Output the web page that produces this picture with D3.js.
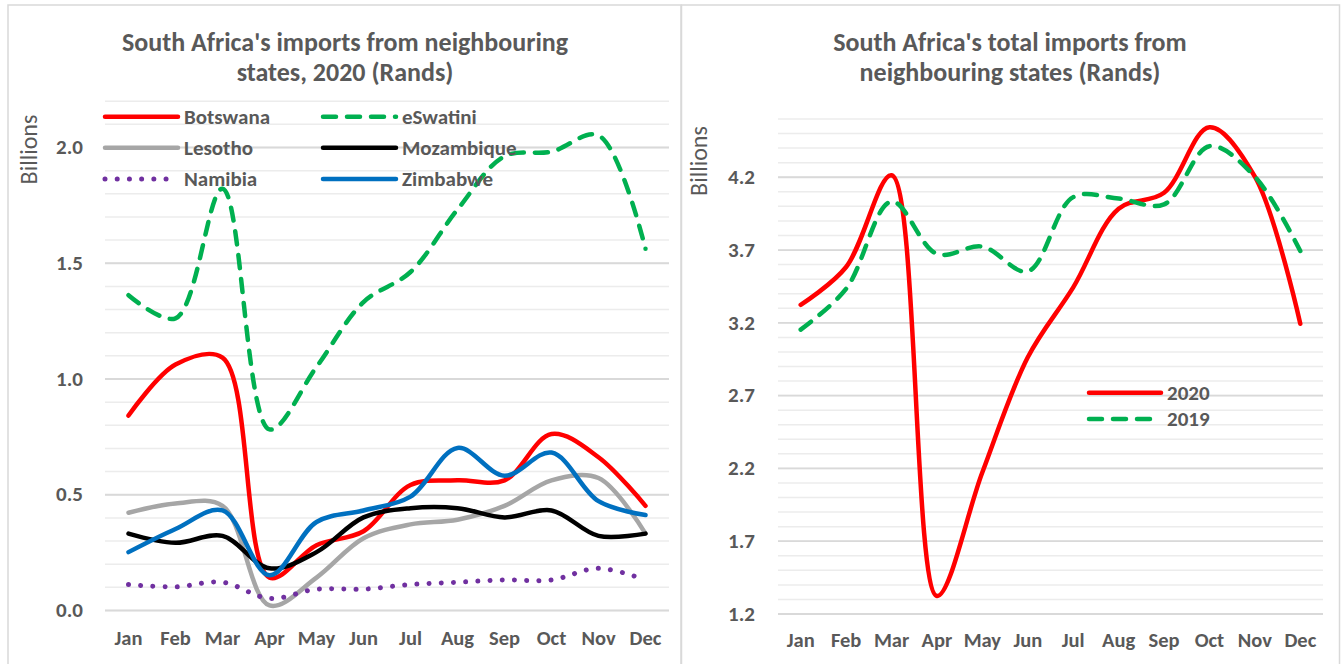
<!DOCTYPE html>
<html>
<head>
<meta charset="utf-8">
<script src="https://cdn.jsdelivr.net/npm/d3@7"></script>
<style>
  html, body { margin: 0; padding: 0; background: #ffffff; }
  svg { display: block; }
  text { font-family: Carlito, Calibri, Lato, sans-serif; fill: #595959; }
</style>
</head>
<body>
<svg id="chart" width="1341" height="664"></svg>
<script>
// ---------- data ----------
const months = ["Jan","Feb","Mar","Apr","May","Jun","Jul","Aug","Sep","Oct","Nov","Dec"];

const botswana   = [0.84,1.06,1.09,0.14,0.28,0.34,0.54,0.56,0.56,0.76,0.66,0.45];
const eswatini   = [1.36,1.26,1.82,0.78,1.05,1.33,1.46,1.73,1.96,1.98,2.05,1.56];
const lesotho    = [0.42,0.46,0.45,0.02,0.14,0.31,0.37,0.39,0.45,0.56,0.57,0.33];
const mozambique = [0.33,0.29,0.32,0.18,0.25,0.40,0.44,0.44,0.40,0.43,0.32,0.33];
const namibia    = [0.11,0.10,0.12,0.05,0.09,0.09,0.11,0.12,0.13,0.13,0.18,0.13];
const zimbabwe   = [0.25,0.35,0.43,0.15,0.38,0.43,0.49,0.70,0.58,0.68,0.47,0.41];

const total2020  = [3.32,3.58,4.21,1.32,2.17,2.96,3.44,3.98,4.09,4.54,4.20,3.19];
const total2019  = [3.15,3.43,4.03,3.67,3.72,3.55,4.06,4.05,4.01,4.41,4.20,3.69];

const leftTicks  = [0.0,0.5,1.0,1.5,2.0];
const rightTicks = [1.2,1.7,2.2,2.7,3.2,3.7,4.2];

const leftTitle  = ["South Africa's imports from neighbouring", "states, 2020 (Rands)"];
const rightTitle = ["South Africa's total imports from", "neighbouring states (Rands)"];
const axisTitle  = "Billions";

const leftSeries = [
  {name:"Botswana",   values:botswana,   color:"#FF0000", style:"solid"},
  {name:"eSwatini",   values:eswatini,   color:"#00B050", style:"dash"},
  {name:"Lesotho",    values:lesotho,    color:"#A6A6A6", style:"solid"},
  {name:"Mozambique", values:mozambique, color:"#000000", style:"solid"},
  {name:"Namibia",    values:namibia,    color:"#7030A0", style:"dot"},
  {name:"Zimbabwe",   values:zimbabwe,   color:"#0070C0", style:"solid"}
];
const rightSeries = [
  {name:"2020", values:total2020, color:"#FF0000", style:"solid"},
  {name:"2019", values:total2019, color:"#00B050", style:"dash"}
];

// ---------- helpers ----------
const svg = d3.select("#chart");
const FONT = "Carlito, Calibri, Lato, sans-serif";

function applyStyle(sel, s) {
  sel.attr("stroke", s.color).attr("fill", "none")
     .attr("stroke-linecap", "round").attr("stroke-linejoin", "round");
  if (s.style === "dash") sel.attr("stroke-width", 4.5).attr("stroke-dasharray", "13,11");
  else if (s.style === "dot") sel.attr("stroke-width", 5).attr("stroke-dasharray", "0.01,12.2");
  else sel.attr("stroke-width", 4.5);
}

function drawPanel(cfg) {
  const g = svg.append("g");
  g.append("rect").attr("x", cfg.panel[0]).attr("y", cfg.panel[1])
    .attr("width", cfg.panel[2]).attr("height", cfg.panel[3])
    .attr("fill", "#fff").attr("stroke", "#d9d9d9").attr("stroke-width", 1.5);

  const x = d3.scaleBand().domain(months).range([cfg.x0, cfg.x1]).padding(0);
  const y = d3.scaleLinear().domain(cfg.domain).range([cfg.yBottom, cfg.yTop]);

  const minor = d3.range(Math.round(cfg.domain[0]*10), Math.round(cfg.domain[1]*10) + 1).map(v => v/10);
  g.append("g").attr("transform", `translate(${cfg.x0},0)`)
    .call(d3.axisLeft(y).tickValues(minor).tickSize(-(cfg.x1 - cfg.x0)).tickFormat(""))
    .call(a => a.select(".domain").remove())
    .call(a => a.selectAll("line").attr("stroke", "#ececec").attr("stroke-width", 1.5));
  g.append("g").attr("transform", `translate(${cfg.x0},0)`)
    .call(d3.axisLeft(y).tickValues(cfg.ticks).tickSize(-(cfg.x1 - cfg.x0)).tickPadding(cfg.tickPad).tickFormat(d3.format(".1f")))
    .call(a => a.select(".domain").remove())
    .call(a => a.selectAll("line").attr("stroke", "#d9d9d9").attr("stroke-width", 1.8))
    .call(a => a.selectAll("text").attr("fill", "#595959").style("font-size", "21px")
        .style("font-weight", 700).style("font-family", FONT));
  g.append("g").attr("transform", `translate(0,${cfg.monthY})`)
    .call(d3.axisBottom(x).tickSize(0).tickPadding(0))
    .call(a => a.select(".domain").remove())
    .call(a => a.selectAll("text").attr("fill", "#595959").attr("dy", 0).style("font-size", "20.5px")
        .style("font-weight", 700).style("font-family", FONT));

  cfg.title.forEach((t, i) => {
    g.append("text").attr("x", cfg.titleX).attr("y", cfg.titleY[i])
      .attr("text-anchor", "middle").style("font-size", "26px").style("font-weight", 700).text(t);
  });
  g.append("text")
    .attr("transform", `translate(${cfg.billions[0]},${cfg.billions[1]}) rotate(-90)`)
    .attr("text-anchor", "middle").style("font-size", "24px").text(axisTitle);

  const line = d3.line()
    .x((d, i) => x(months[i]) + x.bandwidth()/2)
    .y(d => y(d))
    .curve(d3.curveCatmullRom.alpha(0.5));
  cfg.series.forEach(s => {
    g.append("path").attr("d", line(s.values)).call(applyStyle, s);
  });

  cfg.series.forEach((s, i) => {
    const p = cfg.legendPos(i);
    g.append("line").attr("x1", p[0]).attr("x2", p[0] + cfg.legendLen)
      .attr("y1", p[1]).attr("y2", p[1]).call(applyStyle, s);
    g.append("text").attr("x", p[0] + cfg.legendLen + 6).attr("y", p[1]).attr("dy", "0.35em")
      .style("font-size", cfg.legendFont).style("font-weight", 700).text(s.name);
  });
}

drawPanel({
  panel: [8, 5, 673, 680],
  x0: 105, x1: 669, yTop: 100.7, yBottom: 610, domain: [0, 2.2],
  ticks: leftTicks, tickPad: 22, monthY: 645,
  title: leftTitle, titleX: 345, titleY: [51, 81],
  billions: [37, 149.5],
  series: leftSeries,
  legendLen: 73, legendFont: "21px",
  legendPos: i => [i % 2 === 0 ? 105 : 323, [116.7, 147.7, 179][Math.floor(i/2)]]
});

drawPanel({
  panel: [681.5, 5, 658, 680],
  x0: 778, x1: 1323, yTop: 118.5, yBottom: 613.5, domain: [1.2, 4.6],
  ticks: rightTicks, tickPad: 23, monthY: 647,
  title: rightTitle, titleX: 1010, titleY: [51, 81],
  billions: [707, 161],
  series: rightSeries,
  legendLen: 72, legendFont: "21px",
  legendPos: i => [1089, [392.7, 419][i]]
});
</script>
</body>
</html>
